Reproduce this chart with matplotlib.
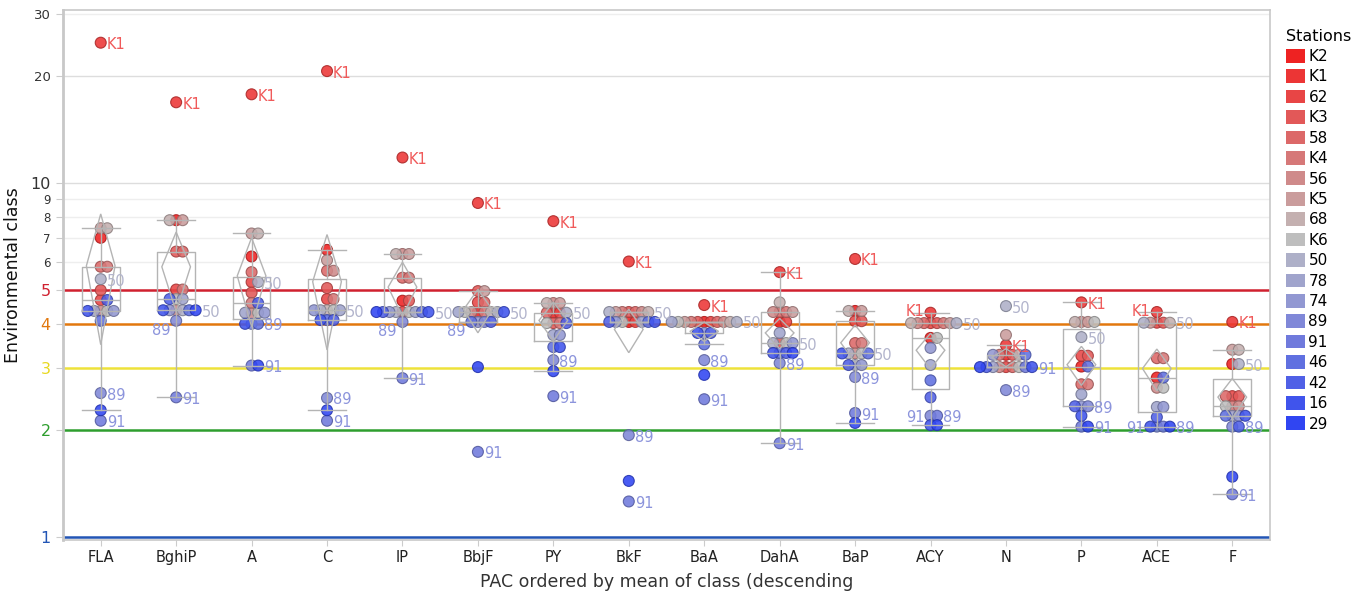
import numpy as np
import matplotlib
matplotlib.use('Agg')
import matplotlib.pyplot as plt
from matplotlib.patches import Polygon, Patch

pacs = ['FLA', 'BghiP', 'A', 'C', 'IP', 'BbjF', 'PY', 'BkF', 'BaA', 'DahA',
        'BaP', 'ACY', 'N', 'P', 'ACE', 'F']
stations = ['K2', 'K1', '62', 'K3', '58', 'K4', '56', 'K5', '68', 'K6',
            '50', '78', '74', '89', '91', '46', '42', '16', '29']
station_colors = ['#EE2222', '#EC3535', '#E84545', '#E25858', '#DC6868', '#D67878',
                  '#CF8A8A', '#CA9C9C', '#C4B0B0', '#BEBEBE', '#AEB0C8', '#A0A4CC',
                  '#9298D2', '#8088D8', '#707ADC', '#6070E0', '#5060E6', '#4054EC',
                  '#3045F2']

# class per station (same order as stations)
fla = [7.0, 24.9, 4.67, 4.98, 5.8, 5.8, 4.35, 7.45, 7.45, 4.35, 5.35, 4.35, 4.35, 2.55, 2.13, 4.08, 4.67, 4.35, 2.28]
bghip = [7.85, 16.9, 5.0, 6.4, 6.4, 5.0, 4.37, 7.85, 7.85, 4.7, 4.37, 4.7, 4.37, 4.08, 2.48, 4.37, 4.7, 4.37, 4.37]
a = [6.2, 17.8, 5.25, 4.9, 5.6, 4.58, 4.28, 7.2, 7.2, 4.3, 5.25, 4.3, 4.3, 4.0, 3.05, 4.0, 4.58, 4.0, 3.05]
c = [6.47, 20.7, 4.7, 5.05, 5.65, 4.7, 5.65, 6.05, 4.37, 4.37, 4.37, 4.37, 4.37, 2.47, 2.13, 4.1, 4.1, 4.1, 2.28]
ip = [4.65, 11.8, 4.32, 4.65, 5.4, 5.4, 6.3, 6.3, 6.3, 4.32, 4.32, 4.32, 4.32, 4.05, 2.81, 4.32, 4.32, 4.32, 4.32]
bbjf = [4.32, 8.78, 4.6, 4.95, 4.6, 4.32, 4.32, 4.95, 4.32, 4.32, 4.32, 4.32, 4.05, 4.05, 1.74, 4.05, 4.05, 4.32, 3.02]
py = [4.3, 7.8, 4.3, 4.02, 4.3, 4.02, 4.58, 4.58, 4.58, 4.02, 4.3, 3.72, 3.72, 3.16, 2.5, 3.44, 4.02, 3.44, 2.94]
bkf = [4.05, 6.0, 4.05, 4.32, 4.32, 4.32, 4.32, 4.32, 4.32, 4.05, 4.32, 4.05, 4.05, 1.94, 1.26, 4.05, 4.05, 4.05, 1.44]
baa = [4.05, 4.52, 4.05, 4.05, 4.05, 4.05, 4.05, 4.05, 4.05, 4.05, 4.05, 4.05, 3.77, 3.16, 2.45, 3.5, 3.77, 3.77, 2.87]
daha = [4.05, 5.6, 4.05, 3.53, 4.32, 4.32, 4.32, 4.32, 4.6, 3.53, 3.53, 3.77, 3.53, 3.1, 1.84, 3.31, 3.31, 3.31, 3.31]
bap = [4.35, 6.1, 4.07, 4.07, 3.53, 3.53, 3.3, 4.35, 4.35, 3.3, 3.3, 3.06, 3.06, 2.83, 2.24, 3.3, 3.06, 3.3, 2.1]
acy = [3.65, 4.3, 4.02, 4.02, 4.02, 4.02, 4.02, 4.02, 4.02, 3.65, 4.02, 3.06, 3.42, 2.2, 2.2, 2.77, 2.48, 2.07, 2.07]
n = [3.27, 3.48, 3.02, 3.27, 3.02, 3.27, 3.02, 3.72, 3.27, 3.02, 4.49, 3.02, 3.27, 2.6, 3.02, 3.27, 3.02, 3.02, 3.02]
p = [3.03, 4.6, 3.25, 3.25, 2.7, 2.7, 4.05, 4.05, 4.05, 4.05, 3.67, 2.53, 2.34, 2.34, 2.05, 3.03, 2.34, 2.2, 2.05]
ace = [2.82, 4.32, 4.03, 4.03, 3.2, 3.2, 2.64, 4.03, 4.03, 2.64, 4.03, 2.33, 2.33, 2.05, 2.05, 2.82, 2.18, 2.05, 2.05]
f = [3.08, 4.05, 2.5, 2.5, 2.5, 2.34, 2.34, 3.38, 3.38, 2.34, 3.08, 2.2, 2.2, 2.05, 1.32, 2.2, 2.05, 2.2, 1.48]

data = [fla, bghip, a, c, ip, bbjf, py, bkf, baa, daha, bap, acy, n, p, ace, f]

class_levels = [1, 2, 3, 4, 5]
class_colors = ['#2255B5', '#2E9E2E', '#EEE23A', '#E2780E', '#D0202F']
label_order = ['50', '89', '91', 'K1']
label_colors = ['#B2B4CC', '#8C94DC', '#8C94DC', '#F05A5A']

grey = '#B4B4B4'

fig = plt.figure(figsize=(13.51, 5.92), dpi=100)
ax = fig.add_axes([63 / 1351, 1 - 540 / 592, (1270 - 63) / 1351, 530 / 592])
ax.set_yscale('log')
ax.set_xlim(-0.5, len(pacs) - 0.5)
ax.set_ylim(0.9807, 30.8)

# grid + class lines
for g in [6, 7, 8, 9, 10, 20, 30]:
    ax.axhline(g, color='#DDDDDD' if g in (10, 20) else '#EEEEEE', lw=1, zorder=1)
for lv, col in zip(class_levels, class_colors):
    ax.axhline(lv, color=col, lw=1.8, zorder=2)

# boxes
ax.boxplot(data, positions=np.arange(len(pacs)), widths=0.5, whis=1.5,
           showfliers=False, capwidths=0.5, manage_ticks=False,
           boxprops=dict(color=grey, lw=1), whiskerprops=dict(color=grey, lw=1),
           capprops=dict(color=grey, lw=1), medianprops=dict(color=grey, lw=1),
           zorder=5)

# mean diamonds (95% CI)
T = 2.101
for i, vals in enumerate(data):
    v = np.array(vals)
    m = v.mean()
    ci = T * v.std(ddof=1) / np.sqrt(len(v))
    w = 0.19
    diamond = Polygon([(i, m + ci), (i + w, m), (i, m - ci), (i - w, m)],
                      closed=True, fill=False, ec=grey, lw=1, zorder=5)
    ax.add_patch(diamond)

# swarm points
D = 6.5
x0 = ax.transData.transform((0, 1))[0]
ppu = ax.transData.transform((1, 1))[0] - x0


def to_px_y(vals):
    return ax.transData.transform(np.column_stack([np.zeros(len(vals)), vals]))[:, 1]


def swarm(vals):
    ypx = to_px_y(vals)
    placed = []
    offs = []
    for y in ypx:
        k = 0.0
        done = False
        while not done:
            for dx in ([0.0] if k == 0 else [k, -k]):
                if all((dx - px) ** 2 + (y - py_) ** 2 >= D * D for px, py_ in placed):
                    placed.append((dx, y))
                    offs.append(dx)
                    done = True
                    break
            k += 0.5
    return np.array(offs) / ppu


def darker(hexc, fct=0.72):
    rgb = np.array(matplotlib.colors.to_rgb(hexc))
    return tuple(rgb * fct)


edge_cols = [darker(cc) for cc in station_colors]
for i, vals in enumerate(data):
    xs = i + swarm(vals)
    ax.scatter(xs, vals, s=62, c=station_colors, edgecolors=edge_cols,
               linewidths=0.8, alpha=0.88, zorder=4)
    ypx = to_px_y(vals)
    used = []
    for st, col in zip(label_order, label_colors):
        j = stations.index(st)
        row = np.abs(ypx - ypx[j]) < 5
        clash = [u for u in used if abs(u - ypx[j]) < 12]
        if clash:
            # right side taken: put it on the left, nudged away
            dy = 0
            if ypx[j] < clash[0] - 3:
                dy = -8
            elif ypx[j] > clash[0] + 3:
                dy = 3
            xl, dx, ha = xs[row].min(), -6, 'right'
        else:
            xl, dx, ha, dy = xs[row].max(), 6, 'left', 0
            used.append(ypx[j])
        ax.annotate(st, (xl, vals[j]), xytext=(dx, dy - 2), textcoords='offset pixels',
                    ha=ha, va='center', fontsize=10.5, color=col, zorder=6)

# axes styling
ax.set_xticks(np.arange(len(pacs)))
ax.set_xticklabels(pacs, fontsize=10.5, color='#222222')
ax.tick_params(axis='x', length=4, color='#CCCCCC', pad=3)

yt = [1, 2, 3, 4, 5, 6, 7, 8, 9, 10, 20, 30]
ax.set_yticks(yt)
ax.set_yticks([], minor=True)
ax.set_yticklabels([str(t) for t in yt])
ytcol = {1: class_colors[0], 2: class_colors[1], 3: '#E8D820', 4: class_colors[3], 5: class_colors[4]}
for t, lab in zip(yt, ax.get_yticklabels()):
    lab.set_color(ytcol.get(t, '#333333'))
    if t <= 5 or t == 10:
        lab.set_fontsize(11.5)
    elif t < 10:
        lab.set_fontsize(8.5)
    else:
        lab.set_fontsize(9.5)
ax.tick_params(axis='y', length=5, color='#CCCCCC', pad=4)

for side in ['top', 'right', 'bottom']:
    ax.spines[side].set_color('#C8C8C8')
    ax.spines[side].set_linewidth(1.2)
ax.spines['left'].set_color('#C8C8C8')
ax.spines['left'].set_linewidth(2)

ax.set_ylabel('Environmental class', fontsize=12.5, color='#111111', labelpad=6)
ax.set_xlabel('PAC ordered by mean of class (descending', fontsize=12.5, color='#333333', labelpad=6)

handles = [Patch(facecolor=cc, edgecolor='none') for cc in station_colors]
leg = ax.legend(handles, stations, title='Stations', loc='upper left',
                bbox_to_anchor=(1.004, 0.985), frameon=False, fontsize=11,
                title_fontsize=11.5, handlelength=1.3, handleheight=1.0,
                handletextpad=0.2, labelspacing=0.35, borderaxespad=0.3,
                alignment='left')

fig.savefig('out.png', dpi=100)
